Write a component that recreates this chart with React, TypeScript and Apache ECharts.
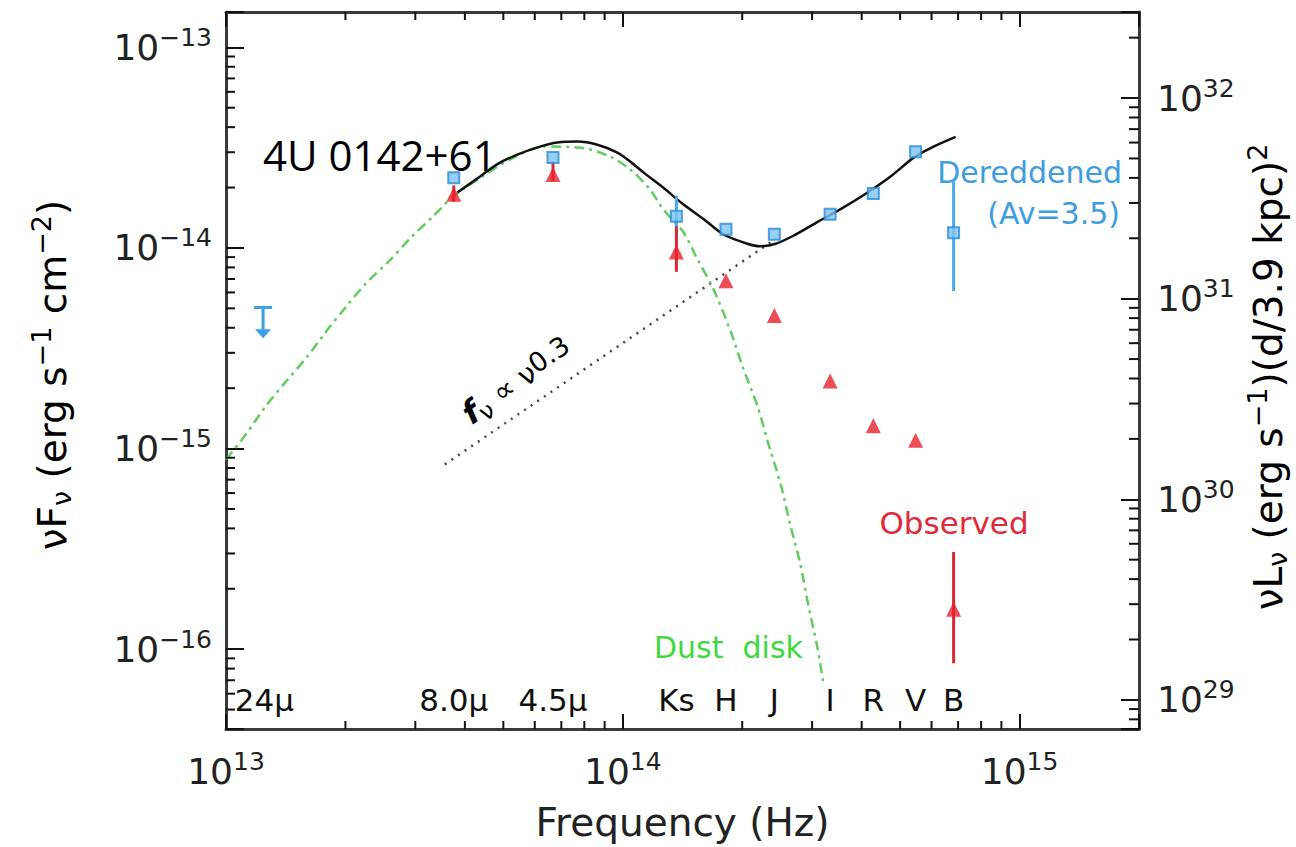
import React, { useEffect, useRef } from 'react';
import * as echarts from 'echarts';

// ---------------- data ----------------
const bandNames = ['24μ', '8.0μ', '4.5μ', 'Ks', 'H', 'J', 'I', 'R', 'V', 'B'];
const bandFreq = [1.25e13, 3.75e13, 6.67e13, 1.365e14, 1.82e14, 2.41e14, 3.33e14, 4.28e14, 5.47e14, 6.82e14];

const photFreq = [3.75e13, 6.67e13, 1.365e14, 1.82e14, 2.41e14, 3.33e14, 4.28e14, 5.47e14, 6.82e14];
const dereddenedFlux = [2.24e-14, 2.82e-14, 1.44e-14, 1.24e-14, 1.17e-14, 1.47e-14, 1.87e-14, 3.02e-14, 1.19e-14];
const observedFlux = [1.85e-14, 2.32e-14, 9.55e-15, 6.87e-15, 4.6e-15, 2.17e-15, 1.3e-15, 1.1e-15, 1.58e-16];

const dereddenedErrFreq = [1.365e14, 6.82e14];
const dereddenedErrLow = [1.15e-14, 6.1e-15];
const dereddenedErrHigh = [1.82e-14, 2.2e-14];

const observedErrFreq = [3.75e13, 6.67e13, 1.365e14, 6.82e14];
const observedErrLow = [1.7e-14, 2.15e-14, 7.6e-15, 8.5e-17];
const observedErrHigh = [2.05e-14, 2.7e-14, 1.28e-14, 3.05e-16];

const upperLimitFreq = [1.24e13];
const upperLimitFlux = [5.05e-15];
const upperLimitTip = [3.55e-15];

const modelFreq = [3.83e13, 4.37e13, 4.82e13, 5.42e13, 6.19e13, 6.84e13, 7.68e13, 8.63e13, 9.69e13, 1.044e14, 1.127e14, 1.264e14, 1.42e14, 1.6e14, 1.79e14, 2.06e14, 2.22e14, 2.43e14, 2.69e14, 3.1e14, 3.54e14, 4.14e14, 4.73e14, 5.41e14, 6.07e14, 6.9e14];
const modelFlux = [1.89e-14, 2.27e-14, 2.61e-14, 2.92e-14, 3.2e-14, 3.35e-14, 3.39e-14, 3.27e-14, 2.99e-14, 2.7e-14, 2.38e-14, 2.0e-14, 1.65e-14, 1.39e-14, 1.17e-14, 1.05e-14, 1.02e-14, 1.05e-14, 1.15e-14, 1.35e-14, 1.56e-14, 1.89e-14, 2.27e-14, 2.82e-14, 3.2e-14, 3.58e-14];

const dustFreq = [1.0e13, 1.12e13, 1.26e13, 1.42e13, 1.59e13, 1.79e13, 2.01e13, 2.25e13, 2.58e13, 2.93e13, 3.33e13, 3.74e13, 4.38e13, 5.2e13, 6.3e13, 7.82e13, 9.3e13, 1.044e14, 1.17e14, 1.264e14, 1.42e14, 1.54e14, 1.69e14, 1.87e14, 2.01e14, 2.18e14, 2.33e14, 2.5e14, 2.64e14, 2.8e14, 2.94e14, 3.1e14, 3.21e14];
const dustFlux = [8.83e-16, 1.17e-15, 1.63e-15, 2.17e-15, 2.82e-15, 3.84e-15, 5.11e-15, 6.64e-15, 8.63e-15, 1.13e-14, 1.44e-14, 1.81e-14, 2.24e-14, 2.76e-14, 3.2e-14, 3.16e-14, 2.85e-14, 2.46e-14, 1.96e-14, 1.56e-14, 1.2e-14, 8.83e-15, 6.27e-15, 3.84e-15, 2.52e-15, 1.65e-15, 1.05e-15, 6.64e-16, 4.21e-16, 2.67e-16, 1.63e-16, 1.0e-16, 6.56e-17];

const powerLawFreq = [3.56e13, 2.43e14];
const powerLawFlux = [8.34e-16, 1.11e-14];

// axis ranges
const X_MIN = 1e13;
const X_MAX = 2.0e15;
const Y_MIN = 4.0e-17;
const Y_MAX = 1.5e-13;
const LUM_FACTOR = 1.79e45; // nuL_nu / nuF_nu for d = 3.9 kpc
const L_MIN = Y_MIN * LUM_FACTOR;
const L_MAX = Y_MAX * LUM_FACTOR;

// ---------------- helpers ----------------
const FONT = 'DejaVu Sans';
const INK = '#222';

const minorTicks = (lo: number, hi: number) => {
  const out: number[] = [];
  for (let e = Math.floor(Math.log10(lo)); e <= Math.ceil(Math.log10(hi)); e++) {
    for (let m = 2; m <= 9; m++) {
      const v = m * Math.pow(10, e);
      if (v > lo * 1.0001 && v < hi * 0.9999) out.push(v);
    }
  }
  return out;
};

const powLabel = (v: number) => {
  const e = Math.round(Math.log10(v));
  if (Math.abs(v / Math.pow(10, e) - 1) > 1e-6) return '';
  const s = e < 0 ? '−' + Math.abs(e) : String(e);
  return `{b|10}{sup|${s}}`;
};

const labelRich = {
  b: { fontSize: 36, fontFamily: FONT, color: INK },
  sup: { fontSize: 25, fontFamily: FONT, color: INK, padding: [0, 0, 20, 0] },
};

const titleRich = {
  b: { fontSize: 39, fontFamily: FONT, color: INK },
  sub: { fontSize: 27, fontFamily: FONT, color: INK, padding: [18, 0, 0, 0] },
  sup: { fontSize: 27, fontFamily: FONT, color: INK, padding: [0, 0, 22, 0] },
};

const errorBarSeries = (freq: number[], lo: number[], hi: number[], color: string) => ({
  type: 'custom',
  xAxisIndex: 0,
  yAxisIndex: 0,
  z: 3,
  data: freq.map((f, i) => [f, lo[i], hi[i]]),
  encode: { x: 0, y: [1, 2] },
  renderItem: (_p: any, api: any) => {
    const a = api.coord([api.value(0), api.value(1)]);
    const b = api.coord([api.value(0), api.value(2)]);
    return {
      type: 'line',
      shape: { x1: a[0], y1: a[1], x2: b[0], y2: b[1] },
      style: { stroke: color, lineWidth: 3 },
    };
  },
});

export default function App() {
  const ref = useRef<HTMLDivElement>(null);

  useEffect(() => {
    if (!ref.current) return;
    const chart = echarts.init(ref.current, undefined, { renderer: 'svg' });

    const xMinor = minorTicks(X_MIN, X_MAX);
    const yMinor = minorTicks(Y_MIN, Y_MAX);
    const lMinor = minorTicks(L_MIN, L_MAX);

    const axisLine = { show: true, lineStyle: { color: '#3a3a3a', width: 3 } };

    const option: any = {
      animation: false,
      backgroundColor: '#ffffff',
      grid: { left: 226, right: 157, top: 12, bottom: 110, containLabel: false },
      xAxis: [
        {
          type: 'log',
          logBase: 10,
          min: X_MIN,
          max: X_MAX,
          position: 'bottom',
          axisLine,
          axisTick: { show: true, inside: true, length: 15, lineStyle: { color: '#111', width: 2 } },
          axisLabel: { formatter: powLabel, rich: labelRich, margin: 20 },
          splitLine: { show: false },
          name: 'Frequency (Hz)',
          nameLocation: 'middle',
          nameGap: 74,
          nameTextStyle: { fontSize: 39, fontFamily: FONT, color: INK },
        },
        {
          type: 'log',
          logBase: 10,
          min: X_MIN,
          max: X_MAX,
          position: 'top',
          axisLine,
          axisTick: { show: true, inside: true, length: 15, lineStyle: { color: '#111', width: 2 } },
          axisLabel: { show: false },
          splitLine: { show: false },
        },
      ],
      yAxis: [
        {
          type: 'log',
          logBase: 10,
          min: Y_MIN,
          max: Y_MAX,
          position: 'left',
          axisLine,
          axisTick: { show: true, inside: true, length: 18, lineStyle: { color: '#111', width: 2 } },
          axisLabel: { formatter: powLabel, rich: labelRich, margin: 14 },
          splitLine: { show: false },
        },
        {
          type: 'log',
          logBase: 10,
          min: L_MIN,
          max: L_MAX,
          position: 'right',
          axisLine,
          axisTick: { show: true, inside: true, length: 18, lineStyle: { color: '#111', width: 2 } },
          axisLabel: { formatter: powLabel, rich: labelRich, margin: 18 },
          splitLine: { show: false },
        },
      ],
      graphic: [
        {
          type: 'text',
          x: 52,
          y: 375,
          rotation: Math.PI / 2,
          style: {
            text: '{b|νF}{sub|ν}{b| (erg s}{sup|−1}{b| cm}{sup|−2}{b|)}',
            rich: titleRich,
            align: 'center',
            verticalAlign: 'middle',
          },
        },
        {
          type: 'text',
          x: 1268,
          y: 377,
          rotation: Math.PI / 2,
          style: {
            text: '{b|νL}{sub|ν}{b| (erg s}{sup|−1}{b|)(d/3.9 kpc)}{sup|2}',
            rich: titleRich,
            align: 'center',
            verticalAlign: 'middle',
          },
        },
        {
          type: 'text',
          x: 263,
          y: 154,
          style: { text: '4U 0142+61', fontSize: 42, fontFamily: 'Open Sans', fill: '#000', align: 'left', verticalAlign: 'middle' },
        },
        {
          type: 'text',
          x: 1122,
          y: 172,
          style: { text: 'Dereddened', fontSize: 30, fontFamily: FONT, fill: '#3d9de0', align: 'right', verticalAlign: 'middle' },
        },
        {
          type: 'text',
          x: 1120,
          y: 213,
          style: { text: '(Av=3.5)', fontSize: 30, fontFamily: FONT, fill: '#3d9de0', align: 'right', verticalAlign: 'middle' },
        },
        {
          type: 'text',
          x: 954,
          y: 523,
          style: { text: 'Observed', fontSize: 31, fontFamily: FONT, fill: '#e02a3a', align: 'center', verticalAlign: 'middle' },
        },
        {
          type: 'text',
          x: 654,
          y: 647,
          style: { text: 'Dust  disk', fontSize: 30, fontFamily: FONT, fill: '#3fd83f', align: 'left', verticalAlign: 'middle' },
        },
        {
          type: 'text',
          x: 517,
          y: 381,
          rotation: 0.6,
          style: {
            text: '{f|f}{sub|ν}{n| ∝ ν}{p|0.3}',
            rich: {
              f: { fontSize: 32, fontFamily: FONT, fontWeight: 'bold', fontStyle: 'italic', color: '#111' },
              sub: { fontSize: 24, fontFamily: FONT, color: '#111', padding: [16, 0, 0, 0] },
              n: { fontSize: 29, fontFamily: FONT, color: '#111' },
              p: { fontSize: 27, fontFamily: FONT, color: '#111', padding: [0, 0, 8, 0] },
            },
            align: 'center',
            verticalAlign: 'middle',
          },
        },
      ],
      series: [
        // minor ticks, x (bottom + top)
        {
          type: 'custom',
          xAxisIndex: 0,
          yAxisIndex: 0,
          silent: true,
          z: 5,
          data: xMinor.map((v) => [v, Y_MIN]),
          encode: { x: 0, y: 1 },
          renderItem: (_p: any, api: any) => {
            const b = api.coord([api.value(0), Y_MIN]);
            const t = api.coord([api.value(0), Y_MAX]);
            return {
              type: 'group',
              children: [
                { type: 'line', shape: { x1: b[0], y1: b[1], x2: b[0], y2: b[1] - 8 }, style: { stroke: '#111', lineWidth: 2 } },
                { type: 'line', shape: { x1: t[0], y1: t[1], x2: t[0], y2: t[1] + 8 }, style: { stroke: '#111', lineWidth: 2 } },
              ],
            };
          },
        },
        // minor ticks, left y
        {
          type: 'custom',
          xAxisIndex: 0,
          yAxisIndex: 0,
          silent: true,
          z: 5,
          data: yMinor.map((v) => [X_MIN, v]),
          encode: { x: 0, y: 1 },
          renderItem: (_p: any, api: any) => {
            const a = api.coord([X_MIN, api.value(1)]);
            return { type: 'line', shape: { x1: a[0], y1: a[1], x2: a[0] + 9, y2: a[1] }, style: { stroke: '#111', lineWidth: 2 } };
          },
        },
        // minor ticks, right y (luminosity)
        {
          type: 'custom',
          xAxisIndex: 0,
          yAxisIndex: 1,
          silent: true,
          z: 5,
          data: lMinor.map((v) => [X_MAX, v]),
          encode: { x: 0, y: 1 },
          renderItem: (_p: any, api: any) => {
            const a = api.coord([X_MAX, api.value(1)]);
            return { type: 'line', shape: { x1: a[0], y1: a[1], x2: a[0] - 10, y2: a[1] }, style: { stroke: '#111', lineWidth: 2 } };
          },
        },
        // band labels along the bottom
        {
          type: 'custom',
          xAxisIndex: 0,
          yAxisIndex: 0,
          silent: true,
          data: bandFreq.map((f) => [f, Y_MIN]),
          encode: { x: 0, y: 1 },
          renderItem: (p: any, api: any) => {
            const a = api.coord([api.value(0), Y_MIN]);
            return {
              type: 'text',
              x: a[0],
              y: a[1] - 29,
              style: { text: bandNames[p.dataIndex], fontSize: 31, fontFamily: FONT, fill: '#111', align: 'center', verticalAlign: 'middle' },
            };
          },
        },
        // power law f_nu ∝ nu^0.3
        {
          type: 'line',
          data: powerLawFreq.map((f, i) => [f, powerLawFlux[i]]),
          symbol: 'none',
          lineStyle: { color: '#444', width: 2.5, type: [2, 6] },
          z: 1,
        },
        // dust disk
        {
          type: 'line',
          data: dustFreq.map((f, i) => [f, dustFlux[i]]),
          symbol: 'none',
          smooth: 0.3,
          lineStyle: { color: '#62cc62', width: 2.5, type: [10, 5, 3, 5] },
          z: 1,
        },
        // total model
        {
          type: 'line',
          data: modelFreq.map((f, i) => [f, modelFlux[i]]),
          symbol: 'none',
          smooth: 0.25,
          lineStyle: { color: '#111', width: 2.5 },
          z: 2,
        },
        errorBarSeries(dereddenedErrFreq, dereddenedErrLow, dereddenedErrHigh, '#4aa6ea'),
        errorBarSeries(observedErrFreq, observedErrLow, observedErrHigh, '#d42a35'),
        // upper limit at 24 micron
        {
          type: 'custom',
          xAxisIndex: 0,
          yAxisIndex: 0,
          z: 4,
          data: upperLimitFreq.map((f, i) => [f, upperLimitFlux[i], upperLimitTip[i]]),
          encode: { x: 0, y: [1, 2] },
          renderItem: (_p: any, api: any) => {
            const a = api.coord([api.value(0), api.value(1)]);
            const t = api.coord([api.value(0), api.value(2)]);
            const c = '#3a9ee8';
            return {
              type: 'group',
              children: [
                { type: 'line', shape: { x1: a[0] - 9, y1: a[1], x2: a[0] + 9, y2: a[1] }, style: { stroke: c, lineWidth: 3 } },
                { type: 'line', shape: { x1: a[0], y1: a[1], x2: t[0], y2: t[1] - 6 }, style: { stroke: c, lineWidth: 3 } },
                { type: 'polygon', shape: { points: [[t[0] - 8, t[1] - 9], [t[0] + 8, t[1] - 9], [t[0], t[1]]] }, style: { fill: c } },
              ],
            };
          },
        },
        // dereddened photometry
        {
          type: 'scatter',
          data: photFreq.map((f, i) => [f, dereddenedFlux[i]]),
          symbol: 'rect',
          symbolSize: 11,
          itemStyle: { color: '#7cc6f2', borderColor: '#2a8ad6', borderWidth: 2 },
          z: 6,
        },
        // observed photometry
        {
          type: 'scatter',
          data: photFreq.map((f, i) => [f, observedFlux[i]]),
          symbol: 'triangle',
          symbolSize: 15,
          itemStyle: { color: '#e8202c' },
          z: 6,
        },
      ],
    };

    chart.setOption(option);
    return () => chart.dispose();
  }, []);

  return (
    <div
      ref={ref}
      style={{ position: 'fixed', left: 0, top: 0, width: 1296, height: 847, background: '#fff' }}
    />
  );
}
